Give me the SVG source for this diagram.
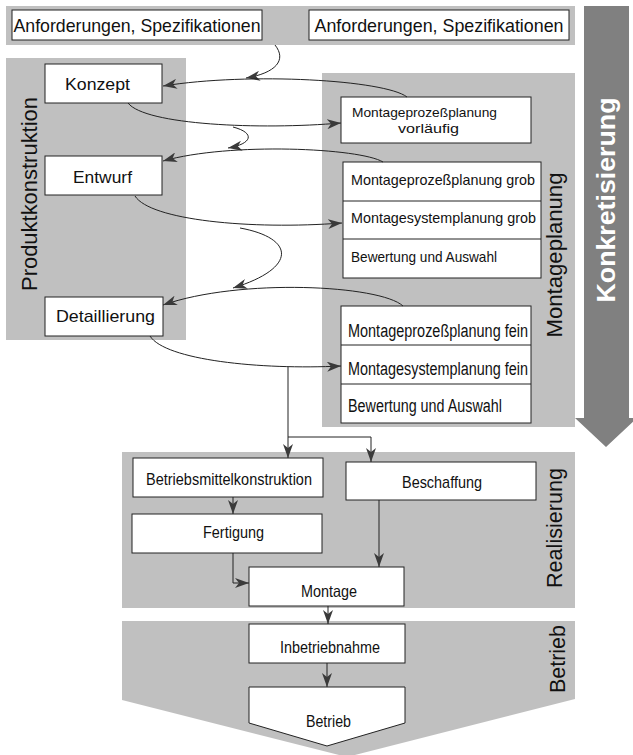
<svg xmlns="http://www.w3.org/2000/svg" width="633" height="755" viewBox="0 0 633 755">
  <style>
    .band { fill: #c0c0c0; }
    .box { fill: #ffffff; stroke: #222222; stroke-width: 1; }
    .t { font-family: "Liberation Sans", Arial, sans-serif; fill: #111111; }
    .lbl { font-family: "Liberation Sans", Arial, sans-serif; font-size: 22px; fill: #111111; text-anchor: middle; }
    .c { fill: none; stroke: #222222; stroke-width: 1; marker-end: url(#ah); }
    .c0 { fill: none; stroke: #222222; stroke-width: 1; }
  </style>
  <defs>
    <marker id="ah" markerUnits="userSpaceOnUse" markerWidth="14" markerHeight="10" viewBox="0 0 14 10" refX="14" refY="5" orient="auto">
      <path d="M0,0 L14,5 L0,10 L4,5 Z" fill="#3a3a3a"/>
    </marker>
  </defs>

  <!-- background bands -->
  <g id="bands">
    <rect class="band" x="6" y="6" width="569" height="39"/>
    <rect class="band" x="6" y="58" width="180" height="282"/>
    <rect class="band" x="322" y="73" width="253" height="354"/>
    <rect class="band" x="122" y="452" width="453" height="156"/>
    <polygon class="band" points="122,621 575,621 575,699 347,757 122,700"/>
  </g>

  <!-- Konkretisierung arrow -->
  <g id="konkretisierung">
    <polygon points="584,6 629,6 629,418 637,418 606,447 575,418 584,418" fill="#808080"/>
    <text x="615" y="200" transform="rotate(-90 615 200)" font-family="'Liberation Sans', Arial, sans-serif" font-size="25" font-weight="bold" fill="#ffffff" text-anchor="middle" textLength="205" lengthAdjust="spacingAndGlyphs">Konkretisierung</text>
  </g>

  <!-- phase labels -->
  <g id="phase-labels">
    <text class="lbl" x="37" y="194" transform="rotate(-90 37 194)" textLength="194" lengthAdjust="spacingAndGlyphs">Produktkonstruktion</text>
    <text class="lbl" x="562" y="255" transform="rotate(-90 562 255)" textLength="165" lengthAdjust="spacingAndGlyphs">Montageplanung</text>
    <text class="lbl" x="562" y="528" transform="rotate(-90 562 528)" textLength="120" lengthAdjust="spacingAndGlyphs">Realisierung</text>
    <text class="lbl" x="565" y="659" transform="rotate(-90 565 659)" textLength="68" lengthAdjust="spacingAndGlyphs">Betrieb</text>
  </g>

  <!-- requirement nodes -->
  <g id="anforderungen-1">
    <rect class="box" x="12" y="10" width="250" height="30"/>
    <text class="t" x="137" y="31.5" font-size="18.5" text-anchor="middle" textLength="247" lengthAdjust="spacingAndGlyphs">Anforderungen, Spezifikationen</text>
  </g>
  <g id="anforderungen-2">
    <rect class="box" x="309" y="10" width="260" height="30"/>
    <text class="t" x="439" y="31.5" font-size="18.5" text-anchor="middle" textLength="249" lengthAdjust="spacingAndGlyphs">Anforderungen, Spezifikationen</text>
  </g>

  <!-- product design nodes -->
  <g id="konzept">
    <rect class="box" x="45" y="64" width="117" height="39"/>
    <text class="t" x="97.5" y="90" font-size="17" text-anchor="middle" textLength="65" lengthAdjust="spacingAndGlyphs">Konzept</text>
  </g>
  <g id="entwurf">
    <rect class="box" x="45" y="156" width="117" height="39"/>
    <text class="t" x="102.5" y="183" font-size="17" text-anchor="middle" textLength="59" lengthAdjust="spacingAndGlyphs">Entwurf</text>
  </g>
  <g id="detaillierung">
    <rect class="box" x="45" y="297" width="118" height="39"/>
    <text class="t" x="105.5" y="322" font-size="17" text-anchor="middle" textLength="99" lengthAdjust="spacingAndGlyphs">Detaillierung</text>
  </g>

  <!-- assembly planning nodes -->
  <g id="planung-vorlaeufig">
    <rect class="box" x="341" y="97" width="190" height="46"/>
    <text class="t" x="424.5" y="117" font-size="13.5" text-anchor="middle" textLength="145" lengthAdjust="spacingAndGlyphs">Montageprozeßplanung</text>
    <text class="t" x="428.5" y="133" font-size="13.5" text-anchor="middle" textLength="61" lengthAdjust="spacingAndGlyphs">vorläufig</text>
  </g>
  <g id="planung-grob">
    <rect class="box" x="343" y="162" width="198" height="116"/>
    <line x1="343" y1="201" x2="541" y2="201" stroke="#222222" stroke-width="1"/>
    <line x1="343" y1="239" x2="541" y2="239" stroke="#222222" stroke-width="1"/>
    <text class="t" x="351" y="185" font-size="15" textLength="184" lengthAdjust="spacingAndGlyphs">Montageprozeßplanung grob</text>
    <text class="t" x="351" y="223" font-size="15" textLength="185" lengthAdjust="spacingAndGlyphs">Montagesystemplanung grob</text>
    <text class="t" x="351" y="262" font-size="15" textLength="146" lengthAdjust="spacingAndGlyphs">Bewertung und Auswahl</text>
  </g>
  <g id="planung-fein">
    <rect class="box" x="341" y="306" width="190" height="117"/>
    <line x1="341" y1="345" x2="531" y2="345" stroke="#222222" stroke-width="1"/>
    <line x1="341" y1="384" x2="531" y2="384" stroke="#222222" stroke-width="1"/>
    <text class="t" x="348" y="337" font-size="18" textLength="180" lengthAdjust="spacingAndGlyphs">Montageprozeßplanung fein</text>
    <text class="t" x="348" y="375" font-size="18" textLength="180" lengthAdjust="spacingAndGlyphs">Montagesystemplanung fein</text>
    <text class="t" x="348" y="412" font-size="18" textLength="154" lengthAdjust="spacingAndGlyphs">Bewertung und Auswahl</text>
  </g>

  <!-- realisation nodes -->
  <g id="betriebsmittelkonstruktion">
    <rect class="box" x="133" y="458" width="190" height="39"/>
    <text class="t" x="229" y="485" font-size="17" text-anchor="middle" textLength="166" lengthAdjust="spacingAndGlyphs">Betriebsmittelkonstruktion</text>
  </g>
  <g id="beschaffung">
    <rect class="box" x="346" y="462" width="190" height="38"/>
    <text class="t" x="442" y="488" font-size="17" text-anchor="middle" textLength="80" lengthAdjust="spacingAndGlyphs">Beschaffung</text>
  </g>
  <g id="fertigung">
    <rect class="box" x="132" y="514" width="190" height="39"/>
    <text class="t" x="233.5" y="538" font-size="16" text-anchor="middle" textLength="61" lengthAdjust="spacingAndGlyphs">Fertigung</text>
  </g>
  <g id="montage">
    <rect class="box" x="249" y="567" width="155" height="39"/>
    <text class="t" x="329" y="597" font-size="16.5" text-anchor="middle" textLength="56" lengthAdjust="spacingAndGlyphs">Montage</text>
  </g>

  <!-- operation nodes -->
  <g id="inbetriebnahme">
    <rect class="box" x="249" y="624" width="156" height="39"/>
    <text class="t" x="330" y="653" font-size="16" text-anchor="middle" textLength="100" lengthAdjust="spacingAndGlyphs">Inbetriebnahme</text>
  </g>
  <g id="betrieb">
    <polygon class="box" points="249,687 405,687 405,723 327,746 249,723"/>
    <text class="t" x="328.5" y="727" font-size="16" text-anchor="middle" textLength="45" lengthAdjust="spacingAndGlyphs">Betrieb</text>
  </g>

  <!-- connectors -->
  <g id="connectors">
    <!-- requirements into the concept loop -->
    <path class="c" d="M275,45 C287,60 276,73 246,78"/>
    <!-- concept loop -->
    <path class="c" d="M407,97 C385,80 250,72 163,86"/>
    <path class="c" d="M128,103 C145,125 260,130 341,123"/>
    <!-- concept to design -->
    <path class="c" d="M233,127 C256,133 252,144 228,148"/>
    <!-- design loop -->
    <path class="c" d="M383,162 C360,148 230,142 163,161"/>
    <path class="c" d="M135,196 C150,220 250,230 342,223"/>
    <!-- design to detailing -->
    <path class="c" d="M240,228 C295,238 298,268 233,288"/>
    <!-- detailing loop -->
    <path class="c" d="M403,306 C380,285 240,278 163,305"/>
    <path class="c" d="M150,336 C165,360 260,370 341,366"/>
    <!-- split into realisation -->
    <path class="c" d="M288,367 L288,458"/>
    <path class="c" d="M288,437 L371,437 L371,462"/>
    <!-- realisation flow -->
    <path class="c" d="M233,497 L233,514"/>
    <path class="c" d="M233,553 L233,583 L249,583"/>
    <path class="c" d="M379,500 L379,567"/>
    <path class="c" d="M328,606 L328,624"/>
    <path class="c" d="M327,663 L327,687"/>
  </g>
</svg>
